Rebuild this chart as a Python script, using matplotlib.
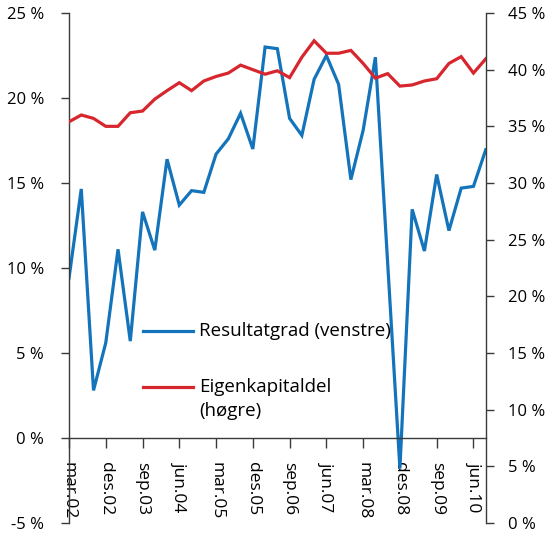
import numpy as np
import matplotlib.pyplot as plt
from matplotlib.ticker import FixedLocator, FuncFormatter

plt.rcParams['font.family'] = ['Open Sans', 'DejaVu Sans']

# quarterly, mar.02 - sep.10
resultatgrad = [9.4, 14.65, 2.8, 5.6, 11.1, 5.7, 13.3, 11.05, 16.4, 13.7,
                14.55, 14.45, 16.7, 17.6, 19.1, 17.0, 23.0, 22.9, 18.8, 17.8,
                21.1, 22.5, 20.8, 15.2, 18.1, 22.4, 10.3, -1.8, 13.45, 11.0,
                15.5, 12.2, 14.7, 14.8, 16.95]
eigenkapitaldel = [35.4, 36.0, 35.7, 35.0, 35.0, 36.2, 36.35, 37.4, 38.15, 38.85,
                   38.15, 39.0, 39.4, 39.7, 40.4, 40.0, 39.6, 39.9, 39.3, 41.1,
                   42.55, 41.45, 41.45, 41.7, 40.55, 39.25, 39.65, 38.55, 38.65, 39.0,
                   39.2, 40.55, 41.15, 39.7, 40.95]
tick_labels = ['mar.02', 'des.02', 'sep.03', 'jun.04', 'mar.05', 'des.05',
               'sep.06', 'jun.07', 'mar.08', 'des.08', 'sep.09', 'jun.10']

blue = '#1474bb'
red = '#d7262e'
spine_col = '#3a3a3a'
fs = 12

x = np.arange(len(resultatgrad))

fig = plt.figure(figsize=(5.5, 5.37), dpi=100)
ax = fig.add_axes([69/550, 1 - 523/537, (485.7 - 69)/550, 510/537])
ax2 = ax.twinx()

ax.plot(x, resultatgrad, color=blue, lw=2.3, solid_joinstyle='miter')
ax2.plot(x, eigenkapitaldel, color=red, lw=2.3, solid_joinstyle='miter')

ax.set_xlim(0, len(x) - 1)
ax.set_ylim(-5, 25)
ax2.set_ylim(0, 45)

pct = FuncFormatter(lambda v, p: '%d %%' % round(v))
ax.yaxis.set_major_locator(FixedLocator(np.arange(-5, 26, 5)))
ax.yaxis.set_major_formatter(pct)
ax2.yaxis.set_major_locator(FixedLocator(np.arange(0, 46, 5)))
ax2.yaxis.set_major_formatter(pct)

ax.set_xticks(np.arange(0, len(x), 3))
ax.set_xticklabels(tick_labels)

for a in (ax, ax2):
    a.spines['top'].set_visible(False)
    for s in a.spines.values():
        s.set_color(spine_col)
        s.set_linewidth(1.0)
ax.spines['right'].set_visible(False)
ax2.spines['left'].set_visible(False)
ax2.spines['bottom'].set_visible(False)
ax.spines['bottom'].set_position(('data', 0))

ax.tick_params(axis='y', length=6, width=1, color=spine_col, labelsize=fs, pad=12)
ax2.tick_params(axis='y', length=6, width=1, color=spine_col, labelsize=fs, pad=10)
ax.tick_params(axis='x', length=7, width=1, color=spine_col, labelsize=fs + 0.5, pad=10,
               labelrotation=270)
for lab in ax.get_xticklabels():
    lab.set_ha('center')
    lab.set_va('top')

# legend inside plot
lfs = 13.5
ax.plot([0.178, 0.298], [0.3765, 0.3765], transform=ax.transAxes, color=blue, lw=2.3)
ax.text(0.312, 0.3765, 'Resultatgrad (venstre)', transform=ax.transAxes,
        fontsize=lfs, va='center', ha='left')
ax.plot([0.178, 0.298], [0.2667, 0.2667], transform=ax.transAxes, color=red, lw=2.3)
ax.text(0.312, 0.2667 + 0.017, 'Eigenkapitaldel\n(høgre)', transform=ax.transAxes,
        fontsize=lfs, va='top', ha='left', linespacing=1.42)

fig.savefig('out.png', dpi=100)
